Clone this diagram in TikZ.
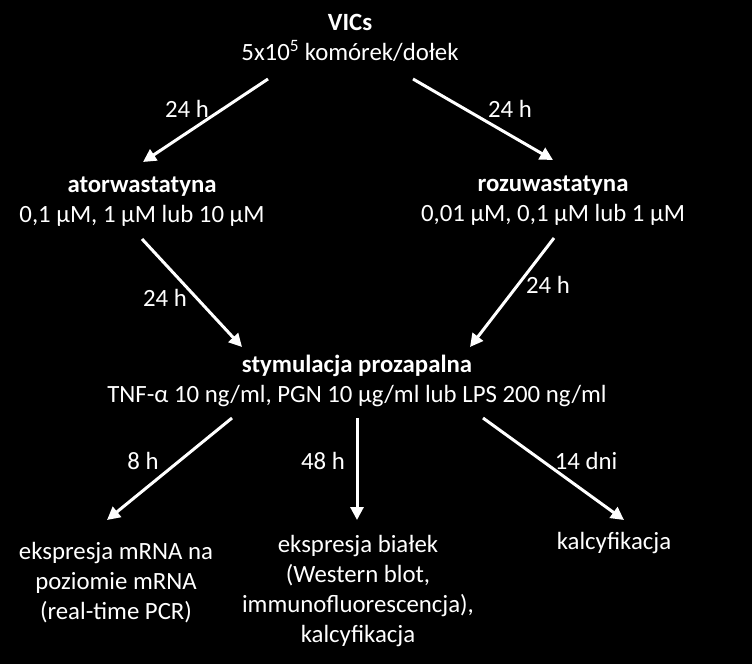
\documentclass[tikz,border=0pt]{standalone}
\usepackage{fontspec}
\setmainfont{Carlito}
\usetikzlibrary{arrows.meta}
\begin{document}
\begin{tikzpicture}[x=1pt,y=-1pt,
  txt/.style={text=white,align=center,inner sep=0pt,font=\fontsize{24.8}{30}\selectfont},
  arr/.style={draw=white,line width=3pt,-{Triangle[length=13pt,width=13pt]}}]
\fill[black] (0,0) rectangle (752,664);
\useasboundingbox (0,0) rectangle (752,664);
% main nodes
\node[txt] (vic) at (350,38) {\textbf{VICs}\\5x10\textsuperscript{5} komórek/dołek};
\node[txt] (ator) at (142,202) {\textbf{atorwastatyna}\\0,1 µM, 1 µM lub 10 µM};
\node[txt] (rozu) at (553,201) {\textbf{rozuwastatyna}\\0,01 µM, 0,1 µM lub 1 µM};
\node[txt] (stym) at (357,381) {\textbf{stymulacja prozapalna}\\TNF-α 10 ng/ml, PGN 10 µg/ml lub LPS 200 ng/ml};
\node[txt] (mrna) at (116,583) {ekspresja mRNA na\\poziomie mRNA\\(real-time PCR)};
\node[txt] (bial) at (358,591) {ekspresja białek\\(Western blot,\\immunofluorescencja),\\kalcyfikacja};
\node[txt] (kalc) at (614,543) {kalcyfikacja};
% labels
\node[txt] (l1) at (187,109) {24 h};
\node[txt] (l2) at (510,109) {24 h};
\node[txt] (l3) at (165,298) {24 h};
\node[txt] (l4) at (548,285) {24 h};
\node[txt] (l5) at (143,461) {8 h};
\node[txt] (l6) at (323,461) {48 h};
\node[txt] (l7) at (586,461) {14 dni};
% arrow end points
\coordinate (a1s) at (268,79);  \coordinate (a1e) at (143,162);
\coordinate (a2s) at (413,79);  \coordinate (a2e) at (553,160);
\coordinate (a3s) at (142,239); \coordinate (a3e) at (242,347);
\coordinate (a4s) at (554,238); \coordinate (a4e) at (470,347);
\coordinate (a5s) at (232,418); \coordinate (a5e) at (107,520);
\coordinate (a6s) at (357,418); \coordinate (a6e) at (357,520);
\coordinate (a7s) at (483,418); \coordinate (a7e) at (624,520);
\draw[arr] (a1s) -- (a1e);
\draw[arr] (a2s) -- (a2e);
\draw[arr] (a3s) -- (a3e);
\draw[arr] (a4s) -- (a4e);
\draw[arr] (a5s) -- (a5e);
\draw[arr] (a6s) -- (a6e);
\draw[arr] (a7s) -- (a7e);
\end{tikzpicture}
\end{document}
